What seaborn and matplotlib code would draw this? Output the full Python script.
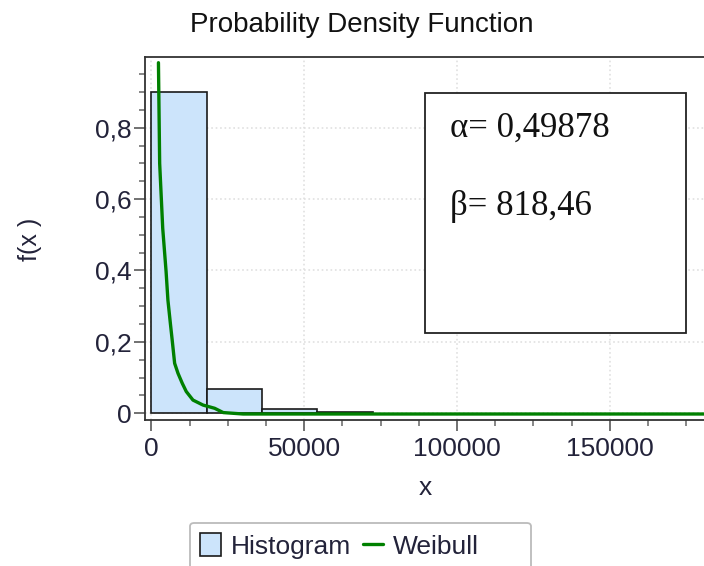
import numpy as np
import pandas as pd
import seaborn as sns
import matplotlib
matplotlib.use("Agg")
import matplotlib.pyplot as plt
from matplotlib.ticker import MultipleLocator, FuncFormatter
from matplotlib.patches import Rectangle, FancyBboxPatch

# ---- data ----
bin_edges = [0, 18100, 36200, 54300, 72400]
hist_heights = [0.901, 0.067, 0.011, 0.0045]

weibull_x = [2300, 2700, 3700, 4800, 5400, 6200, 6800, 7600, 8700, 10100,
             11400, 13600, 16900, 20700, 23500, 30000, 60000, 181000]
weibull_y = [0.982, 0.700, 0.518, 0.397, 0.317, 0.252, 0.205, 0.140, 0.112,
             0.084, 0.061, 0.037, 0.023, 0.014, 0.002, -0.002, -0.002, -0.002]

alpha_text = "α= 0,49878"
beta_text = "β= 818,46"
x_ticks = [0, 50000, 100000, 150000]
y_ticks = [0, 0.2, 0.4, 0.6, 0.8]

sns.set_theme(style="white")
plt.rcParams['font.family'] = ['Liberation Sans', 'DejaVu Sans']

W, H = 704, 566
fig = plt.figure(figsize=(W / 100, H / 100), dpi=100)
ax = fig.add_axes([145 / W, 1 - 420 / H, (W - 145) / W, (420 - 57) / H])

centers = [(bin_edges[i] + bin_edges[i + 1]) / 2 for i in range(len(hist_heights))]
hist_df = pd.DataFrame({"x": centers, "w": hist_heights})
sns.histplot(data=hist_df, x="x", weights="w", bins=bin_edges, stat="count",
             color="#cce4fb", edgecolor="#1a1a1a", linewidth=1.2, alpha=1.0,
             ax=ax, label="Histogram")

line_df = pd.DataFrame({"x": weibull_x, "y": weibull_y})
sns.lineplot(data=line_df, x="x", y="y", color="#008000", linewidth=2.4,
             ax=ax, label="Weibull", sort=False)

ax.set_xlim(-2100, 180850)
ax.set_ylim(-0.0188, 0.998)

ax.set_xticks(x_ticks)
ax.set_yticks(y_ticks)
ax.xaxis.set_minor_locator(MultipleLocator(12500))
ax.yaxis.set_minor_locator(MultipleLocator(0.05))

def yfmt(v, pos):
    if abs(v) < 1e-9:
        return "0"
    return ("%.1f" % v).replace(".", ",")

ax.yaxis.set_major_formatter(FuncFormatter(yfmt))
ax.xaxis.set_major_formatter(FuncFormatter(lambda v, p: "%d" % v))

txt_color = "#23233a"
ax.tick_params(axis="both", which="major", direction="out", length=8, width=1.3,
               color="#666666", labelsize=19, labelcolor=txt_color, pad=4,
               bottom=True, left=True)
ax.tick_params(axis="y", which="major", pad=1.5)
ax.tick_params(axis="both", which="minor", direction="out", length=4.5, width=1.1,
               color="#666666", bottom=True, left=True)

ax.grid(True, which="major", linestyle=":", color="#e0e0e0", linewidth=1.2)
ax.set_axisbelow(True)

for s in ["left", "bottom", "top"]:
    ax.spines[s].set_color("#333333")
    ax.spines[s].set_linewidth(1.3)
ax.spines["right"].set_visible(False)

ax.set_xlabel("")
ax.set_ylabel("")

fig.text(362 / W, 1 - 25 / H, "Probability Density Function", ha="center",
         va="center", fontsize=20, color="#111111")
fig.text(425 / W, 1 - 488 / H, "x", ha="center", va="center", fontsize=19,
         color=txt_color)
fig.text(30 / W, 1 - 239 / H, "f(x )", ha="center", va="center", fontsize=18,
         color=txt_color, rotation=90)

# parameter box
fig.patches.append(Rectangle((425 / W, 1 - 333 / H), 261 / W, 240 / H,
                             transform=fig.transFigure, facecolor="white",
                             edgecolor="#222222", linewidth=1.3, zorder=5))
fig.text(450 / W, 1 - 128 / H, alpha_text, ha="left", va="center", fontsize=25,
         family=["Liberation Serif", "DejaVu Serif"], color="#111111", zorder=6)
fig.text(450 / W, 1 - 207 / H, beta_text, ha="left", va="center", fontsize=25,
         family=["Liberation Serif", "DejaVu Serif"], color="#111111", zorder=6)

# legend
if ax.legend_:
    ax.legend_.remove()
handles, labels = ax.get_legend_handles_labels()
order = [labels.index("Histogram"), labels.index("Weibull")]
handles = [handles[i] for i in order]
labels = [labels[i] for i in order]
fig.patches.append(FancyBboxPatch((190 / W, 1 - 580 / H), 341 / W, 57 / H,
                                  boxstyle="round,pad=0,rounding_size=0.006",
                                  transform=fig.transFigure, facecolor="white",
                                  edgecolor="#bbbbbb", linewidth=1.3))
leg = fig.legend(handles, labels, loc="center left",
                 bbox_to_anchor=(200 / W, 1 - 546 / H), ncol=2, fontsize=19,
                 frameon=False, handlelength=0.78, handleheight=0.95,
                 handletextpad=0.38, columnspacing=0.45, borderpad=0,
                 borderaxespad=0)
for t in leg.get_texts():
    t.set_color(txt_color)

fig.savefig("out.png", dpi=100)
